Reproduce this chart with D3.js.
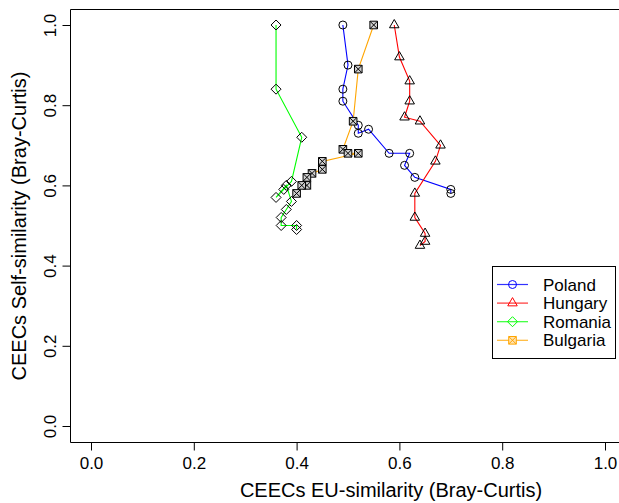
<!DOCTYPE html>
<html><head><meta charset="utf-8">
<script src="https://cdn.jsdelivr.net/npm/d3@7"></script>
<style>body{margin:0;background:#fff}svg{display:block}text{font-family:"Liberation Sans",Arial,Helvetica,sans-serif;fill:#000}</style>
</head><body><svg id="c" width="619" height="503"></svg>
<script>
const seriesNames = ["Poland","Hungary","Romania","Bulgaria"];
const seriesColors = ["#0000FF","#FF0000","#00FF00","#FFA500"];
const polandX = [0.49,0.50,0.49,0.49,0.52,0.52,0.54,0.58,0.62,0.61,0.63,0.70,0.70];
const polandY = [1.00,0.90,0.84,0.81,0.75,0.73,0.74,0.68,0.68,0.65,0.62,0.59,0.58];
const hungaryX = [0.59,0.60,0.62,0.62,0.61,0.64,0.68,0.67,0.63,0.63,0.65,0.65,0.64];
const hungaryY = [1.00,0.92,0.86,0.81,0.77,0.76,0.70,0.66,0.58,0.52,0.48,0.46,0.45];
const romaniaX = [0.36,0.36,0.41,0.39,0.375,0.36,0.38,0.39,0.38,0.37,0.37,0.40,0.40];
const romaniaY = [1.00,0.84,0.72,0.61,0.59,0.57,0.60,0.56,0.54,0.52,0.50,0.50,0.49];
const bulgariaX = [0.55,0.52,0.51,0.49,0.50,0.52,0.45,0.45,0.43,0.42,0.42,0.41,0.40];
const bulgariaY = [1.00,0.89,0.76,0.69,0.68,0.68,0.66,0.64,0.63,0.62,0.60,0.60,0.58];
const xTicks = [0.0,0.2,0.4,0.6,0.8,1.0];
const yTicks = [0.0,0.2,0.4,0.6,0.8,1.0];
const xLabel = "CEECs EU-similarity (Bray-Curtis)";
const yLabel = "CEECs Self-similarity (Bray-Curtis)";

const seriesX = [polandX,hungaryX,romaniaX,bulgariaX];
const seriesY = [polandY,hungaryY,romaniaY,bulgariaY];
const shapes = ["circle","triangle","diamond","squarex"];

const svg = d3.select("#c");
const x = d3.scaleLinear().domain([0,1]).range([91,605]);
const y = d3.scaleLinear().domain([0,1]).range([426,25]);
const boxL = Math.round(x(-0.04))+0.5, boxT = Math.round(y(1.04))+0.5, boxB = Math.round(y(-0.04))+0.5, boxR = 640;

svg.append("path").attr("d",`M${boxR},${boxT}H${boxL}V${boxB}H${boxR}`).attr("fill","none").attr("stroke","#000").attr("stroke-width",1);

const fmt = d3.format(".1f");
const xAxis = d3.axisBottom(x).tickValues(xTicks).tickFormat(fmt).tickSize(8).tickPadding(6);
const gx = svg.append("g").attr("transform",`translate(0,${boxB})`).call(xAxis);
gx.select(".domain").remove();
gx.selectAll("text").attr("font-size",17).attr("font-family","Liberation Sans, Arial, sans-serif");
const yAxis = d3.axisLeft(y).tickValues(yTicks).tickFormat(fmt).tickSize(8).tickPadding(6);
const gy = svg.append("g").attr("transform",`translate(${boxL},0)`).call(yAxis);
gy.select(".domain").remove();
gy.selectAll("text").attr("font-size",17).attr("font-family","Liberation Sans, Arial, sans-serif")
  .attr("text-anchor","middle").attr("dy",null).attr("x",null)
  .attr("transform","translate(-15,0) rotate(-90)").attr("y",0);

svg.append("text").attr("x",391).attr("y",497).attr("text-anchor","middle").attr("font-size",20).text(xLabel);
svg.append("text").attr("transform",`translate(26,${(boxT+boxB)/2}) rotate(-90)`).attr("text-anchor","middle").attr("font-size",20).text(yLabel);

function marker(g, shape, cx, cy, color, fill){
  if(shape==="circle") g.append("circle").attr("cx",cx).attr("cy",cy).attr("r",4).attr("fill","none").attr("stroke",color);
  else if(shape==="triangle"){const r=5.5; g.append("path").attr("d",`M${cx},${cy-r}L${cx+r*0.866},${cy+r*0.5}L${cx-r*0.866},${cy+r*0.5}Z`).attr("fill","none").attr("stroke",color);}
  else if(shape==="diamond"){const r=5; g.append("path").attr("d",`M${cx},${cy-r}L${cx+r},${cy}L${cx},${cy+r}L${cx-r},${cy}Z`).attr("fill","none").attr("stroke",color);}
  else {const r=3.8;
    g.append("rect").attr("x",cx-r).attr("y",cy-r).attr("width",2*r).attr("height",2*r).attr("fill",fill||"none").attr("stroke","none");
    g.append("path").attr("d",`M${cx-r},${cy-r}H${cx+r}V${cy+r}H${cx-r}ZM${cx-r},${cy-r}L${cx+r},${cy+r}M${cx+r},${cy-r}L${cx-r},${cy+r}`).attr("fill","none").attr("stroke",color);}
}

const line = d3.line();
seriesNames.forEach((n,i)=>{
  const pts = seriesX[i].map((v,j)=>[x(v),y(seriesY[i][j])]);
  svg.append("path").attr("d",line(pts)).attr("fill","none").attr("stroke",seriesColors[i]).attr("stroke-width",1.1);
});
seriesNames.forEach((n,i)=>{
  const g = svg.append("g");
  seriesX[i].forEach((v,j)=>marker(g,shapes[i],x(v),y(seriesY[i][j]),"#000","#d0d0d0"));
});

const lg = svg.append("g");
lg.append("rect").attr("x",492.5).attr("y",266.5).attr("width",123).attr("height",92).attr("fill","#fff").attr("stroke","#000");
seriesNames.forEach((n,i)=>{
  const yy = 284.5 + i*18.6;
  lg.append("line").attr("x1",497).attr("x2",528).attr("y1",yy).attr("y2",yy).attr("stroke",seriesColors[i]).attr("stroke-width",1.2).attr("opacity",0.8);
  marker(lg,shapes[i],512.5,yy,seriesColors[i],"#FFE2B0");
  lg.append("text").attr("x",543).attr("y",yy+6).attr("font-size",17).text(n);
});
</script></body></html>
